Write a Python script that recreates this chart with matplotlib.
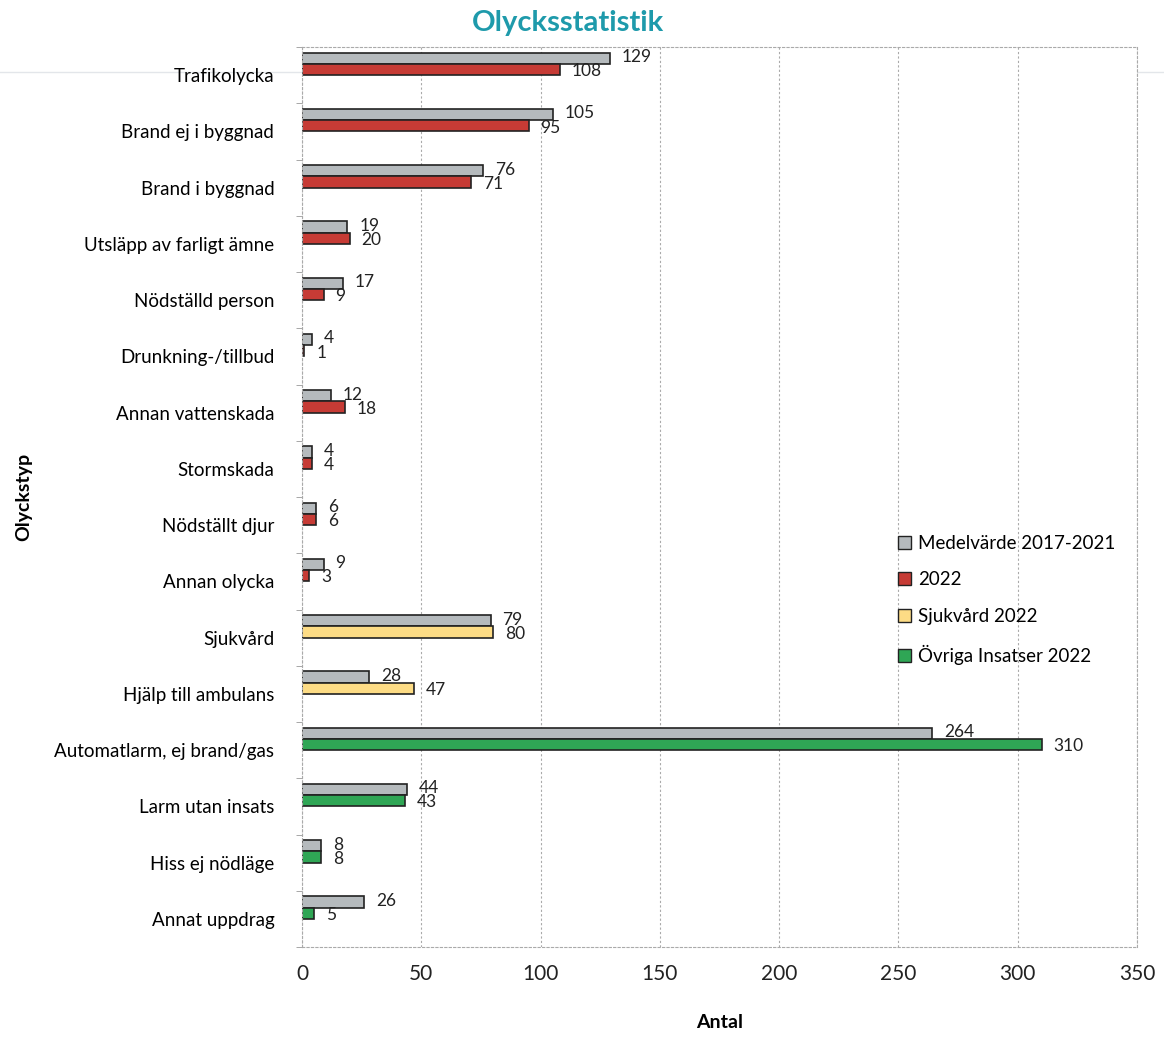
import matplotlib.pyplot as plt
import numpy as np
from matplotlib.patches import Patch
from matplotlib.lines import Line2D

plt.rcParams['font.family'] = ['Lato', 'DejaVu Sans']

categories = ['Trafikolycka', 'Brand ej i byggnad', 'Brand i byggnad',
              'Utsläpp av farligt ämne', 'Nödställd person', 'Drunkning-/tillbud',
              'Annan vattenskada', 'Stormskada', 'Nödställt djur', 'Annan olycka',
              'Sjukvård', 'Hjälp till ambulans', 'Automatlarm, ej brand/gas',
              'Larm utan insats', 'Hiss ej nödläge', 'Annat uppdrag']
medel = [129, 105, 76, 19, 17, 4, 12, 4, 6, 9, 79, 28, 264, 44, 8, 26]
year_2022 = [108, 95, 71, 20, 9, 1, 18, 4, 6, 3, 80, 47, 310, 43, 8, 5]
groups = ['2022'] * 10 + ['Sjukvård 2022'] * 2 + ['Övriga Insatser 2022'] * 4

group_colors = {'2022': '#C63B35', 'Sjukvård 2022': '#FDDC85',
                'Övriga Insatser 2022': '#2FA655'}
gray = '#B5BABD'

fig = plt.figure(figsize=(11.64, 10.46), dpi=100)
ax = fig.add_axes([0.2595, 0.0946, 0.7173, 0.8604])

y = np.arange(len(categories))
h = 0.2
ax.barh(y - 0.3, medel, height=h, color=gray, edgecolor='#222222', linewidth=1.2)
ax.barh(y - 0.1, year_2022, height=h, color=[group_colors[g] for g in groups],
        edgecolor='#222222', linewidth=1.2)

for yi, m, v in zip(y, medel, year_2022):
    ax.text(m + 5, yi - 0.32, str(m), va='center', ha='left', fontsize=12.5, color='#222222')
    ax.text(v + 5, yi - 0.07, str(v), va='center', ha='left', fontsize=12.5, color='#222222')

ax.set_xlim(0, 350)
ax.set_xticks(np.arange(0, 351, 50))
ax.set_ylim(len(categories) - 0.5, -0.5)
ax.set_yticks(y)
ax.set_yticklabels(categories, fontsize=13.5)
ax.set_yticks(np.arange(-0.5, len(categories), 1), minor=True)
ax.tick_params(axis='y', which='major', length=0, pad=20)
ax.tick_params(axis='y', which='minor', length=4, color='#999999')
ax.tick_params(axis='x', labelsize=15, length=0, pad=12, colors='#222222')

ax.grid(axis='x', color='#AAAAAA', linestyle=(0, (2, 2)), linewidth=0.8)
ax.set_axisbelow(True)
for s in ax.spines.values():
    s.set_color('#AAAAAA')
    s.set_linestyle((0, (2, 2)))
    s.set_linewidth(0.8)

ax.set_xlabel('Antal', fontsize=14, fontweight='bold', labelpad=22)
ax.set_ylabel('Olyckstyp', fontsize=14, fontweight='bold', labelpad=16)

fig.text(0.488, 0.978, 'Olycksstatistik', ha='center', va='center',
         fontsize=21, fontweight='bold', color='#1E9AAB')

handles = [Patch(facecolor=gray, edgecolor='#222222', label='Medelvärde 2017-2021')]
handles += [Patch(facecolor=group_colors[k], edgecolor='#222222', label=k)
            for k in ['2022', 'Sjukvård 2022', 'Övriga Insatser 2022']]
ax.legend(handles=handles, loc='upper left', bbox_to_anchor=(0.693, 0.477),
          frameon=False, fontsize=13.5, handlelength=0.7, handleheight=0.7,
          handletextpad=0.4, labelspacing=1.05)

# faint scan line across the page
fig.add_artist(Line2D([0, 1], [0.931, 0.931], color='#E3E6EA', linewidth=1, zorder=0))

fig.savefig('out.png', dpi=100)
